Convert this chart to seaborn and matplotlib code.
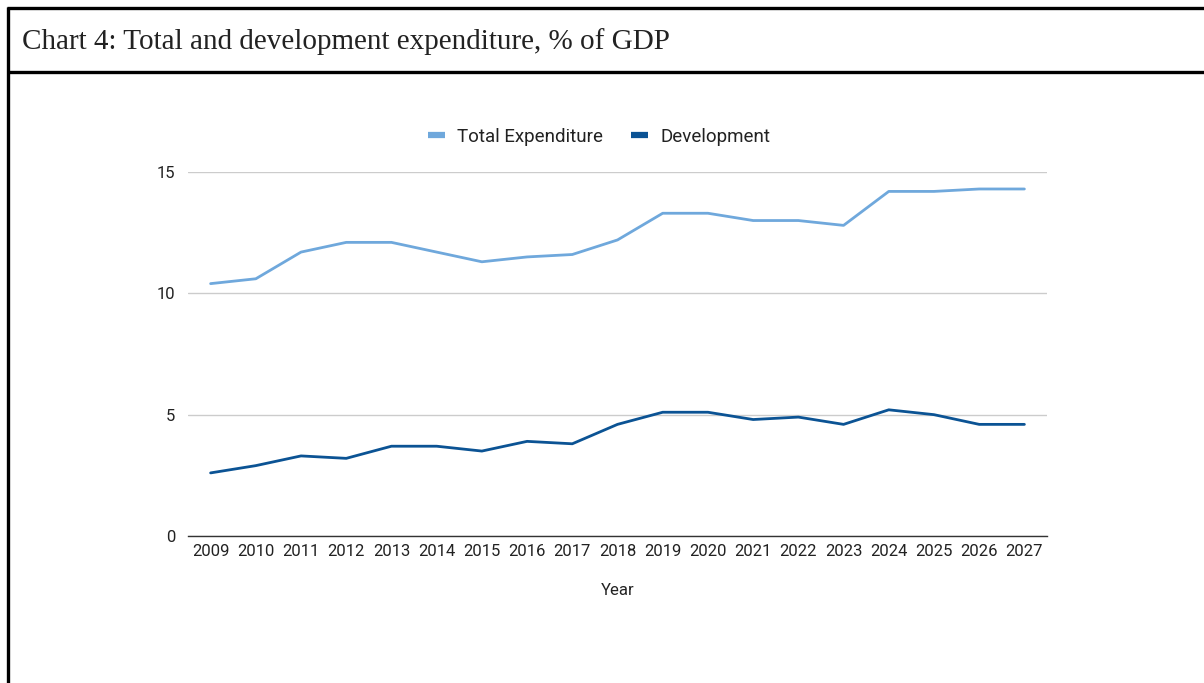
import matplotlib
matplotlib.use("Agg")
import matplotlib.pyplot as plt
from matplotlib.lines import Line2D
import seaborn as sns
import pandas as pd

years = list(range(2009, 2028))
total_expenditure = [10.4, 10.6, 11.7, 12.1, 12.1, 11.7, 11.3, 11.5, 11.6, 12.2,
                     13.3, 13.3, 13.0, 13.0, 12.8, 14.2, 14.2, 14.3, 14.3]
development = [2.6, 2.9, 3.3, 3.2, 3.7, 3.7, 3.5, 3.9, 3.8, 4.6,
               5.1, 5.1, 4.8, 4.9, 4.6, 5.2, 5.0, 4.6, 4.6]
series_names = ["Total Expenditure", "Development"]
y_ticks = [0, 5, 10, 15]
title = "Chart 4: Total and development expenditure, % of GDP"

df = pd.DataFrame({
    "Year": years * 2,
    "value": total_expenditure + development,
    "series": [series_names[0]] * len(years) + [series_names[1]] * len(years),
})

sns.set_theme(style="white")
plt.rcParams["font.family"] = ["Roboto", "DejaVu Sans"]

fig = plt.figure(figsize=(12.04, 6.83), dpi=100)
ax = fig.add_axes([188 / 1204, 1 - 536 / 683, (1047 - 188) / 1204, (536 - 172) / 683])

palette = {series_names[0]: "#6fa8dc", series_names[1]: "#0b5394"}
sns.lineplot(data=df, x="Year", y="value", hue="series", palette=palette,
             linewidth=2.0, ax=ax, legend=False)

ax.set_xlim(years[0] - 0.5, years[-1] + 0.5)
ax.set_ylim(0, 15)
ax.set_xticks(years)
ax.set_xticklabels([str(y) for y in years])
ax.set_yticks(y_ticks)
ax.yaxis.grid(True, color="#cccccc", linewidth=1.0)
ax.xaxis.grid(False)
for side in ["top", "right", "left"]:
    ax.spines[side].set_visible(False)
ax.spines["bottom"].set_color("#333333")
ax.spines["bottom"].set_linewidth(1.0)
ax.tick_params(axis="both", length=0, labelsize=12, colors="#222222")
ax.tick_params(axis="x", pad=6)
ax.tick_params(axis="y", pad=9)
ax.set_ylabel("")
ax.set_xlabel("Year", fontsize=12, color="#222222", labelpad=17)

handles = [Line2D([0], [0], color=palette[n], linewidth=4.5, solid_capstyle="butt")
           for n in series_names]
fig.legend(handles, series_names, loc="center", bbox_to_anchor=(599 / 1204, 1 - 136.5 / 683),
           ncol=2, frameon=False, fontsize=13.5, handlelength=0.9, handletextpad=0.65,
           columnspacing=1.5, labelcolor="#222222")

# Title box
fig.text(22 / 1204, 1 - 42 / 683, title, fontsize=21, va="center", ha="left",
         family=["Liberation Serif", "DejaVu Serif"], color="#222222")
border = dict(color="black", linewidth=2.4, solid_capstyle="butt")
fig.add_artist(Line2D([7 / 1204, 1], [1 - 8 / 683, 1 - 8 / 683], transform=fig.transFigure, **border))
fig.add_artist(Line2D([7 / 1204, 1], [1 - 72 / 683, 1 - 72 / 683], transform=fig.transFigure, **border))
fig.add_artist(Line2D([8 / 1204, 8 / 1204], [0, 1 - 7 / 683], transform=fig.transFigure, **border))

fig.savefig("out.png", dpi=100, facecolor="white")
